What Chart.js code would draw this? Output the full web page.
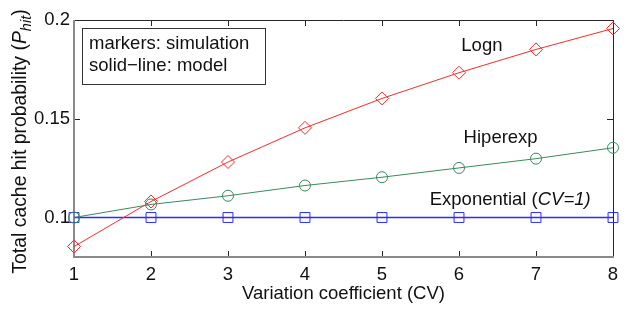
<!DOCTYPE html>
<html>
<head>
<meta charset="utf-8">
<script src="https://cdn.jsdelivr.net/npm/chart.js@4.4.1/dist/chart.umd.min.js"></script>
<style>
  html, body { margin: 0; padding: 0; background: #fff; }
  #wrap { width: 629px; height: 309px; position: relative; }
</style>
</head>
<body>
<div id="wrap"><canvas id="chart"></canvas></div>
<script>
// values
const cvValues = [1, 2, 3, 4, 5, 6, 7, 8];
const lognHit = [0.0853, 0.1081, 0.1281, 0.1454, 0.1603, 0.1733, 0.1851, 0.1957];
const hiperexpHit = [0.1, 0.1066, 0.1110, 0.1162, 0.1204, 0.1251, 0.1298, 0.1353];
const exponentialHit = [0.1, 0.1, 0.1, 0.1, 0.1, 0.1, 0.1, 0.1];
const yTickValues = [0.1, 0.15, 0.2];
const xTickValues = [1, 2, 3, 4, 5, 6, 7, 8];

const FONT = '"Liberation Sans", Arial, Helvetica, sans-serif';
const FS = 18.5;
const FS_Y = 19.4;

const toPoints = (ys) => cvValues.map((x, i) => ({ x: x, y: ys[i] }));

// frame with inward ticks, drawn under the data
const framePlugin = {
  id: "frame",
  beforeDatasetsDraw(chart) {
    const { ctx, chartArea: a, scales } = chart;
    ctx.save();
    ctx.strokeStyle = "#262626";
    ctx.lineWidth = 1;
    ctx.beginPath();
    ctx.moveTo(a.left, a.top + 0.5);
    ctx.lineTo(a.right + 0.5, a.top + 0.5);
    ctx.lineTo(a.right + 0.5, a.bottom);
    ctx.stroke();
    // ticks
    ctx.beginPath();
    xTickValues.forEach((v) => {
      const px = Math.round(scales.x.getPixelForValue(v)) + 0.5;
      ctx.moveTo(px, a.bottom); ctx.lineTo(px, a.bottom - 6);
      ctx.moveTo(px, a.top); ctx.lineTo(px, a.top + 6);
    });
    yTickValues.forEach((v) => {
      const py = Math.round(scales.y.getPixelForValue(v)) + 0.5;
      ctx.moveTo(a.left, py); ctx.lineTo(a.left + 6, py);
      ctx.moveTo(a.right, py); ctx.lineTo(a.right - 6, py);
    });
    ctx.stroke();
    ctx.strokeStyle = "#8a8a8a";
    ctx.lineWidth = 2;
    ctx.beginPath();
    ctx.moveTo(a.left, a.top);
    ctx.lineTo(a.left, a.bottom);
    ctx.lineTo(a.right + 1, a.bottom);
    ctx.stroke();
    ctx.restore();
  },
  afterDraw(chart) {
    const { ctx, chartArea: a, scales } = chart;
    const xs = scales.x, ys = scales.y;
    ctx.save();
    ctx.fillStyle = "#111";
    ctx.textBaseline = "middle";

    // x axis title
    ctx.font = FS + "px " + FONT;
    ctx.textAlign = "center";
    ctx.fillText("Variation coefficient (CV)", (a.left + a.right) / 2, 294);

    // y axis title with italic subscript
    ctx.translate(21, (a.top + a.bottom) / 2 + 3);
    ctx.rotate(-Math.PI / 2);
    const parts = [
      { t: "Total cache hit probability (", f: FS_Y + "px " + FONT, dy: 0 },
      { t: "P", f: "italic " + FS_Y + "px " + FONT, dy: 0 },
      { t: "hit", f: "italic " + (FS_Y * 0.75) + "px " + FONT, dy: 6 },
      { t: ")", f: FS_Y + "px " + FONT, dy: 0 },
    ];
    let total = 0;
    parts.forEach((p) => { ctx.font = p.f; total += ctx.measureText(p.t).width; });
    let cx = -total / 2;
    ctx.textAlign = "left";
    parts.forEach((p) => {
      ctx.font = p.f;
      ctx.fillText(p.t, cx, p.dy);
      cx += ctx.measureText(p.t).width;
    });
    ctx.restore();

    // curve labels
    ctx.save();
    ctx.fillStyle = "#111";
    ctx.textBaseline = "middle";
    ctx.textAlign = "left";
    ctx.font = FS + "px " + FONT;
    ctx.fillText("Logn", xs.getPixelForValue(6.03), ys.getPixelForValue(0.1869));
    ctx.fillText("Hiperexp", xs.getPixelForValue(6.06), ys.getPixelForValue(0.1404));
    let ex = xs.getPixelForValue(5.62);
    const ey = ys.getPixelForValue(0.109);
    ctx.fillText("Exponential (", ex, ey);
    ex += ctx.measureText("Exponential (").width;
    ctx.font = "italic " + FS + "px " + FONT;
    ctx.fillText("CV=1)", ex, ey);

    // note box
    const bx = a.left + 8, by = a.top + 8;
    ctx.fillStyle = "#fff";
    ctx.fillRect(bx, by, 183, 56);
    ctx.strokeStyle = "#333";
    ctx.lineWidth = 1;
    ctx.strokeRect(bx + 0.5, by + 0.5, 183, 56);
    ctx.fillStyle = "#111";
    ctx.font = FS + "px " + FONT;
    ctx.fillText("markers: simulation", bx + 7, by + 16);
    ctx.fillText("solid\u2212line: model", bx + 7, by + 38);
    ctx.restore();
  },
};

const series = (label, ys, color, style, radius, width) => ({
  label: label,
  data: toPoints(ys),
  borderColor: color,
  backgroundColor: "rgba(0,0,0,0)",
  borderWidth: width,
  pointStyle: style,
  pointRadius: radius,
  pointBorderWidth: 1,
  pointBorderColor: color,
  pointBackgroundColor: "rgba(0,0,0,0)",
  tension: 0,
  clip: false,
});

new Chart(document.getElementById("chart"), {
  type: "line",
  data: {
    datasets: [
      series("Hiperexp", hiperexpHit, "#3a8a5c", "circle", 5.5, 1),
      series("Logn", lognHit, "#ff2a2a", "rectRot", 6.5, 1),
      series("Exponential", exponentialHit, "#2b2bff", "rect", 7, 1.4),
    ],
  },
  options: {
    responsive: true,
    maintainAspectRatio: false,
    animation: false,
    events: [],
    layout: { padding: { top: 20, right: 16, left: 0, bottom: 0 } },
    plugins: { legend: { display: false }, tooltip: { enabled: false } },
    scales: {
      x: {
        type: "linear",
        min: 1,
        max: 8,
        afterBuildTicks: (s) => { s.ticks = xTickValues.map((v) => ({ value: v })); },
        afterFit: (s) => { s.height = 52; },
        grid: { display: false, drawTicks: false },
        border: { display: false },
        ticks: {
          padding: 7,
          color: "#111",
          font: { family: FONT, size: FS },
          maxRotation: 0,
        },
      },
      y: {
        type: "linear",
        min: 0.08,
        max: 0.2,
        afterBuildTicks: (s) => { s.ticks = yTickValues.map((v) => ({ value: v })); },
        afterFit: (s) => { s.width = 74; },
        grid: { display: false, drawTicks: false },
        border: { display: false },
        ticks: {
          padding: 4,
          color: "#111",
          font: { family: FONT, size: FS },
          callback: (v) => String(Math.round(v * 100) / 100),
        },
      },
    },
  },
  plugins: [framePlugin],
});
</script>
</body>
</html>
